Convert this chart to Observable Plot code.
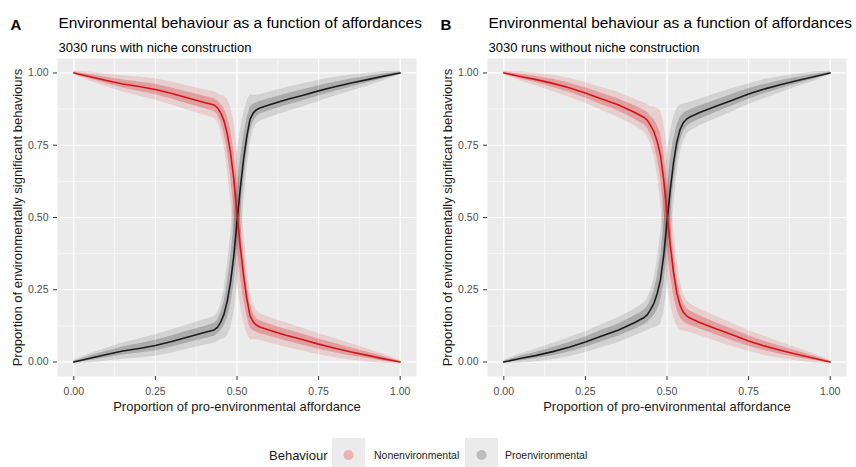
<!DOCTYPE html>
<html><head><meta charset="utf-8">
<script src="https://cdn.jsdelivr.net/npm/d3@7"></script>
<script src="https://cdn.jsdelivr.net/npm/@observablehq/plot@0.6"></script>
<style>
body{margin:0;background:#fff;font-family:"Liberation Sans",Arial,sans-serif;}
#wrap{position:relative;width:856px;height:467px;overflow:hidden;}
#pa{position:absolute;left:0;top:0}
#pb{position:absolute;left:430px;top:0}
#legend{position:absolute;left:0;top:0}
</style></head><body>
<div id="wrap"><div id="pa"></div><div id="pb"></div>
<svg id="legend" width="856" height="467" style="pointer-events:none">
  <text x="269" y="460" font-size="13" fill="#1a1a1a">Behaviour</text>
  <rect x="332" y="438" width="33" height="30" fill="#ebebeb"/>
  <circle cx="348.5" cy="455" r="5" fill="#efb0b4"/>
  <text x="374" y="459" font-size="10.5" fill="#1a1a1a">Nonenvironmental</text>
  <rect x="465" y="438" width="33" height="30" fill="#ebebeb"/>
  <circle cx="481.5" cy="455" r="5" fill="#bdbdbd"/>
  <text x="505" y="459" font-size="10.5" fill="#1a1a1a">Proenvironmental</text>
</svg>
</div>
<script>
// Proportion of pro-environmental affordance (x positions read)
const xs = [0,0.05,0.10,0.15,0.20,0.25,0.30,0.35,0.40,0.43,0.44,0.45,0.46,0.47,0.48,0.49,0.50,0.51,0.52,0.53,0.54,0.55,0.56,0.57,0.60,0.65,0.70,0.75,0.80,0.85,0.90,0.95,1.00];

// Panel A: with niche construction
const nonenvA = [1.000,0.987,0.974,0.962,0.953,0.943,0.929,0.913,0.898,0.889,0.880,0.862,0.835,0.790,0.725,0.635,0.515,0.400,0.300,0.220,0.160,0.138,0.127,0.121,0.110,0.093,0.078,0.062,0.048,0.035,0.023,0.011,0.000];
const proenvA  = [0.000,0.013,0.026,0.038,0.047,0.057,0.071,0.087,0.102,0.111,0.120,0.138,0.165,0.210,0.275,0.365,0.485,0.600,0.700,0.780,0.840,0.862,0.873,0.879,0.890,0.907,0.922,0.938,0.952,0.965,0.977,0.989,1.000];
const spreadOuterA = [0.006,0.016,0.022,0.028,0.033,0.037,0.040,0.042,0.044,0.046,0.050,0.060,0.085,0.120,0.160,0.200,0.230,0.200,0.160,0.120,0.085,0.060,0.050,0.046,0.044,0.042,0.040,0.037,0.033,0.028,0.022,0.016,0.006];
const spreadInnerA = [0.003,0.008,0.011,0.014,0.016,0.018,0.019,0.020,0.021,0.022,0.024,0.030,0.042,0.060,0.080,0.100,0.110,0.100,0.080,0.060,0.042,0.030,0.024,0.022,0.021,0.020,0.019,0.018,0.016,0.014,0.011,0.008,0.003];

// Panel B: without niche construction
const nonenvB = [1.000,0.988,0.977,0.964,0.949,0.931,0.910,0.890,0.864,0.846,0.836,0.818,0.797,0.763,0.715,0.630,0.515,0.405,0.310,0.240,0.196,0.172,0.160,0.152,0.137,0.115,0.094,0.073,0.055,0.040,0.026,0.013,0.000];
const proenvB  = [0.000,0.012,0.023,0.036,0.051,0.069,0.090,0.110,0.136,0.154,0.164,0.182,0.203,0.237,0.285,0.370,0.485,0.595,0.690,0.760,0.804,0.828,0.840,0.848,0.863,0.885,0.906,0.927,0.945,0.960,0.974,0.987,1.000];
const spreadOuterB = [0.006,0.016,0.022,0.028,0.033,0.036,0.040,0.043,0.046,0.050,0.055,0.065,0.085,0.115,0.155,0.200,0.230,0.200,0.155,0.115,0.085,0.065,0.055,0.050,0.046,0.043,0.040,0.036,0.033,0.028,0.022,0.016,0.006];
const spreadInnerB = [0.003,0.008,0.011,0.014,0.016,0.018,0.020,0.021,0.023,0.025,0.027,0.032,0.042,0.057,0.077,0.100,0.110,0.100,0.077,0.057,0.042,0.032,0.027,0.025,0.023,0.021,0.020,0.018,0.016,0.014,0.011,0.008,0.003];

const majorTicks = [0,0.25,0.5,0.75,1];
const minorTicks = [0.125,0.375,0.625,0.875];
const title = "Environmental behaviour as a function of affordances";
const xTitle = "Proportion of pro-environmental affordance";
const yTitle = "Proportion of environmentally significant behaviours";

const RED = "#d21418", BLACK = "#1c1c1c";

function panel(letter, subtitle, red, black, so, si, width, marginRight) {
  const rows = xs.map((x, i) => ({x, red: red[i], black: black[i], so: so[i], si: si[i]}));
  return Plot.plot({
    width, height: 430, marginTop: 58, marginBottom: 54, marginLeft: 57, marginRight,
    style: {fontFamily: "Liberation Sans, Arial, sans-serif", background: "transparent", overflow: "visible"},
    x: {domain: [-0.05, 1.05]},
    y: {domain: [-0.05, 1.05]},
    marks: [
      Plot.frame({fill: "#ebebeb", stroke: "none"}),
      Plot.gridX(minorTicks, {stroke: "#fff", strokeOpacity: 1, strokeWidth: 0.6}),
      Plot.gridY(minorTicks, {stroke: "#fff", strokeOpacity: 1, strokeWidth: 0.6}),
      Plot.gridX(majorTicks, {stroke: "#fff", strokeOpacity: 1, strokeWidth: 1.2}),
      Plot.gridY(majorTicks, {stroke: "#fff", strokeOpacity: 1, strokeWidth: 1.2}),
      Plot.areaY(rows, {x: "x", y1: d => d.red - d.so, y2: d => d.red + d.so, fill: RED, fillOpacity: 0.13}),
      Plot.areaY(rows, {x: "x", y1: d => d.red - d.si, y2: d => d.red + d.si, fill: RED, fillOpacity: 0.26}),
      Plot.areaY(rows, {x: "x", y1: d => d.black - d.so, y2: d => d.black + d.so, fill: "#222", fillOpacity: 0.12}),
      Plot.areaY(rows, {x: "x", y1: d => d.black - d.si, y2: d => d.black + d.si, fill: "#222", fillOpacity: 0.22}),
      Plot.lineY(rows, {x: "x", y: "black", stroke: BLACK, strokeWidth: 1.6}),
      Plot.lineY(rows, {x: "x", y: "red", stroke: RED, strokeWidth: 1.6}),
      Plot.axisX({ticks: majorTicks, tickFormat: d3.format(".2f"), tickSize: 4, tickPadding: 7, fontSize: 10.5, fill: "#4d4d4d", stroke: "#333", label: null}),
      Plot.axisY({ticks: majorTicks, tickFormat: d3.format(".2f"), tickSize: 4, tickPadding: 5, fontSize: 10.5, fill: "#4d4d4d", stroke: "#333", label: null}),
      Plot.text([xTitle], {text: d => d, frameAnchor: "bottom", dy: 34, fontSize: 13, fill: "#1a1a1a"}),
      Plot.text([yTitle], {text: d => d, frameAnchor: "left", textAnchor: "middle", rotate: -90, dx: -40, fontSize: 13, fill: "#1a1a1a"}),
      Plot.text([letter], {text: d => d, frameAnchor: "top-left", textAnchor: "start", dx: -47, dy: -39.2, fontSize: 15, fontWeight: "bold", fill: "#000"}),
      Plot.text([title], {text: d => d, frameAnchor: "top-left", textAnchor: "start", dx: 1, dy: -41.8, fontSize: 15.4, fill: "#000"}),
      Plot.text([subtitle], {text: d => d, frameAnchor: "top-left", textAnchor: "start", dx: 1, dy: -15.5, fontSize: 13, fill: "#000"})
    ]
  });
}

document.getElementById("pa").appendChild(panel("A", "3030 runs with niche construction", nonenvA, proenvA, spreadOuterA, spreadInnerA, 428, 12));
document.getElementById("pb").appendChild(panel("B", "3030 runs without niche construction", nonenvB, proenvB, spreadOuterB, spreadInnerB, 426, 10));
</script>
</body></html>
